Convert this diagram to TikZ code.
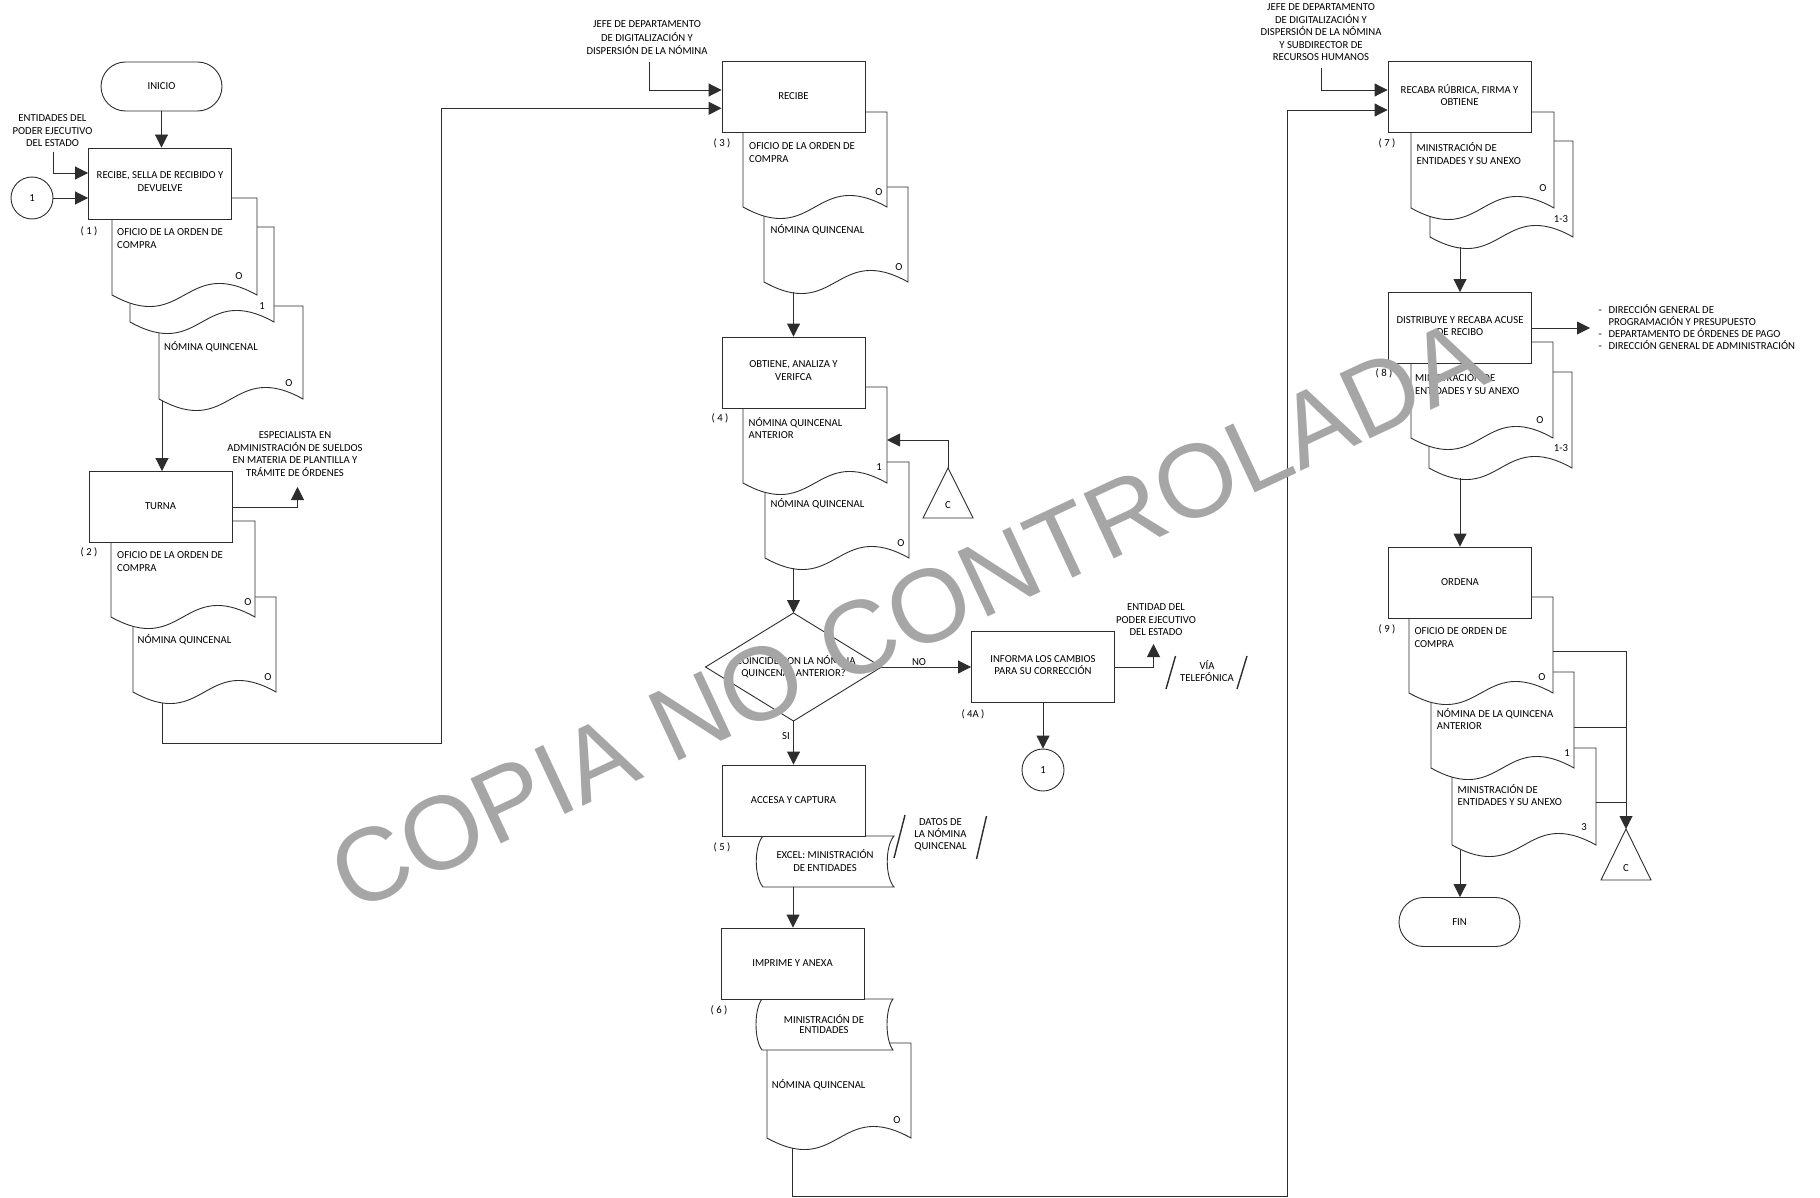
\documentclass[tikz,border=0pt]{standalone}
\usepackage{fontspec}
\setmainfont{Carlito}
\newfontfamily\wmfont{Liberation Sans}
\usetikzlibrary{arrows.meta}
\definecolor{wm}{RGB}{166,166,166}
\definecolor{ln}{RGB}{45,45,45}
\newcommand\ftxt{\fontsize{10.7}{12.5}\selectfont}
\newcommand\docshape[4]{%
  \draw[lnst, fill=white] (#1,#2) -- (#3,#2) -- (#3,#4)
    .. controls ({(#1+#3)/2},{#4-40}) and ({(#1+#3)/2},{#4+40}) .. (#1,#4) -- cycle;}
\newcommand\storedshape[5]{%
  \draw[lnst, fill=white] (#1,#2) -- (#3,#2)
    .. controls ({#3-#5},{#2+0.2*(#4-#2)}) and ({#3-#5},{#4-0.2*(#4-#2)}) .. (#3,#4)
    -- (#1,#4)
    .. controls ({#1-#5},{#4-0.2*(#4-#2)}) and ({#1-#5},{#2+0.2*(#4-#2)}) .. (#1,#2) -- cycle;}
\tikzset{
  lnst/.style={draw=ln, line width=0.9pt},
  proc/.style={lnst, fill=white, rectangle, minimum width=143pt, minimum height=71pt,
    inner sep=0pt, align=center, font=\ftxt, execute at begin node=\strut, execute at end node=\strut},
  term/.style={lnst, fill=white, rectangle, rounded corners=24.5pt, minimum width=121pt,
    minimum height=49pt, inner sep=0pt, font=\ftxt},
  conn/.style={lnst, fill=white, circle, minimum size=42pt, inner sep=0pt, font=\ftxt},
  arr/.style={lnst, -{Triangle[length=13pt,width=13pt]}},
  wire/.style={lnst},
  slash/.style={draw=ln, line width=1.4pt},
  lt/.style={anchor=north west, align=left, inner sep=0pt, font=\ftxt,
    execute at begin node=\strut, execute at end node=\strut},
  ct/.style={anchor=north, align=center, inner sep=0pt, font=\ftxt,
    execute at begin node=\strut, execute at end node=\strut},
  cc/.style={anchor=center, align=center, inner sep=0pt, font=\ftxt,
    execute at begin node=\strut, execute at end node=\strut},
  tag/.style={anchor=center, inner sep=0pt, font=\ftxt},
  wmark/.style={text=wm, inner sep=0pt, font=\wmfont\fontsize{104}{104}\selectfont},
}
\begin{document}
\begin{tikzpicture}[x=1pt,y=-1pt]
\useasboundingbox (0,0) rectangle (1820,1198);
\fill[white] (0,0) rectangle (1820,1198);

% ---------- step 1 ----------
\node[term] (inicio) at (161.5,86.5) {INICIO};
\docshape{159}{306}{303}{399}
\docshape{130}{227}{274}{322}
\docshape{112}{198}{257}{295}
\node[proc] (b1) at (160,183.5) {RECIBE, SELLA DE RECIBIDO Y\\DEVUELVE};
\node[conn] (con1a) at (32,198) {1};
\coordinate (ent1) at (53,152);
\coordinate (d1c-out) at (162,401);
\node[ct] (lbl-ent1) at (52.5,114.7) {ENTIDADES DEL\\PODER EJECUTIVO\\DEL ESTADO};
\node[tag] (n1) at (89,231) {( 1 )};
\node[lt] (t1a) at (117,228.7) {OFICIO DE LA ORDEN DE\\COMPRA};
\node[tag] (o1a) at (239,276) {O};
\node[tag] (o1b) at (262,306) {1};
\node[lt] (t1c) at (164,341.7) {NÓMINA QUINCENAL};
\node[tag] (o1c) at (289,383) {O};

% ---------- step 2 ----------
\docshape{133}{597}{276}{692}
\docshape{111}{521}{255}{617}
\node[proc] (b2) at (160.5,507) {TURNA};
\coordinate (esp) at (297.5,487);
\coordinate (d2b-out) at (162,703);
\coordinate (j1) at (441,743);
\node[ct] (lbl-esp) at (295,431.7) {ESPECIALISTA EN\\ADMINISTRACIÓN DE SUELDOS\\EN MATERIA DE PLANTILLA Y\\TRÁMITE DE ÓRDENES};
\node[tag] (n2) at (89,552) {( 2 )};
\node[lt] (t2a) at (117,551.7) {OFICIO DE LA ORDEN DE\\COMPRA};
\node[tag] (o2a) at (248,602) {O};
\node[lt] (t2b) at (137.5,634.7) {NÓMINA QUINCENAL};
\node[tag] (o2b) at (268,677) {O};

% ---------- step 3 ----------
\docshape{764}{187}{908}{282}
\docshape{743}{112}{887}{207}
\node[proc] (b3) at (793.5,97) {RECIBE};
\coordinate (jefe3) at (649,62);
\coordinate (d3b-out) at (793.5,292);
\node[ct, font=\fontsize{10.7}{13.3}\selectfont] (lbl-jefe3) at (647,20.7) {JEFE DE DEPARTAMENTO\\DE DIGITALIZACIÓN Y\\DISPERSIÓN DE LA NÓMINA};
\node[tag] (n3) at (722,143) {( 3 )};
\node[lt] (t3a) at (749,142.5) {OFICIO DE LA ORDEN DE\\COMPRA};
\node[tag] (o3a) at (879,192) {O};
\node[lt] (t3b) at (770.5,224) {NÓMINA QUINCENAL};
\node[tag] (o3b) at (899,267) {O};

% ---------- step 4 ----------
\docshape{765}{462}{909}{558}
\docshape{743}{387}{887}{483}
\node[proc] (b4) at (793.5,372.5) {OBTIENE, ANALIZA Y\\VERIFCA};
\coordinate (d4a-in) at (887,440);
\coordinate (c4) at (948,468);
\coordinate (d4b-out) at (793.5,568);
\draw[lnst] (c4) -- (973,518) -- (923,518) -- cycle;
\node[tag] (tc4) at (948,505) {C};
\node[tag] (n4) at (720,418) {( 4 )};
\node[lt] (t4a) at (748.5,417.2) {NÓMINA QUINCENAL\\ANTERIOR};
\node[tag] (o4a) at (879,467) {1};
\node[lt] (t4b) at (770.5,498.7) {NÓMINA QUINCENAL};
\node[tag] (o4b) at (901,543) {O};

% ---------- decision ----------
\coordinate (decN) at (793.5,613);
\coordinate (decS) at (793.5,721);
\coordinate (decE) at (881.5,667);
\coordinate (decW) at (705.5,667);
\draw[lnst, fill=white] (decN) -- (decE) -- (decS) -- (decW) -- cycle;
\node[cc] (dec) at (793.5,668) {¿COINCIDE CON LA NÓMINA\\QUINCENAL ANTERIOR?};
\node[tag] (lno) at (919,662) {NO};
\node[tag] (lsi) at (786,736) {SI};

% ---------- step 4A ----------
\node[proc] (b4a) at (1043,667) {INFORMA LOS CAMBIOS\\PARA SU CORRECCIÓN};
\node[conn] (con1b) at (1043,770) {1};
\coordinate (ent4a) at (1153.5,644);
\node[tag] (n4a) at (973,714) {( 4A )};
\node[ct] (lbl-ent4a) at (1156,603.7) {ENTIDAD DEL\\PODER EJECUTIVO\\DEL ESTADO};
\node[ct, font=\fontsize{10.7}{12}\selectfont] (lbl-via) at (1207,660.7) {VÍA\\TELEFÓNICA};
\coordinate (s1a) at (1166,689); \coordinate (s1b) at (1175.5,656);
\coordinate (s2a) at (1237,689); \coordinate (s2b) at (1247,656);
\draw[slash] (s1a) -- (s1b);
\draw[slash] (s2a) -- (s2b);

% ---------- step 5 ----------
\storedshape{763}{836}{894}{887}{9}
\node[proc] (b5) at (793.5,800.5) {ACCESA Y CAPTURA};
\coordinate (ex-out) at (793,887);
\node[cc] (tex) at (825,862.5) {EXCEL: MINISTRACIÓN\\DE ENTIDADES};
\node[tag] (n5) at (722,847) {( 5 )};
\node[ct, font=\fontsize{10.7}{12}\selectfont] (lbl-datos) at (940.5,818.7) {DATOS DE\\LA NÓMINA\\QUINCENAL};
\coordinate (s3a) at (894,858); \coordinate (s3b) at (905,815);
\coordinate (s4a) at (976.5,859); \coordinate (s4b) at (986.5,816);
\draw[slash] (s3a) -- (s3b);
\draw[slash] (s4a) -- (s4b);

% ---------- step 6 ----------
\docshape{767}{1043}{911}{1138}
\storedshape{762}{999}{893}{1050}{8}
\node[proc] (b6) at (792.5,963.5) {IMPRIME Y ANEXA};
\coordinate (d6-out) at (792,1148);
\coordinate (j2) at (1287,1196);
\node[cc, font=\fontsize{10.7}{10}\selectfont] (tmin6) at (824,1025.5) {MINISTRACIÓN DE\\ENTIDADES};
\node[tag] (n6) at (719,1010) {( 6 )};
\node[lt] (t6) at (771.7,1079) {NÓMINA QUINCENAL};
\node[tag] (o6) at (897,1120) {O};

% ---------- step 7 ----------
\docshape{1430}{141}{1573}{237}
\docshape{1411}{112}{1554}{208}
\node[proc] (b7) at (1459.5,97) {RECABA RÚBRICA, FIRMA Y\\OBTIENE};
\coordinate (jefe7) at (1321,68);
\coordinate (d7b-out) at (1460,247);
\node[ct] (lbl-jefe7) at (1321,3.7) {JEFE DE DEPARTAMENTO\\DE DIGITALIZACIÓN Y\\DISPERSIÓN DE LA NÓMINA\\Y SUBDIRECTOR DE\\RECURSOS HUMANOS};
\node[tag] (n7) at (1387,143) {( 7 )};
\node[lt] (t7a) at (1416.5,142.7) {MINISTRACIÓN DE\\ENTIDADES Y SU ANEXO};
\node[tag] (o7a) at (1543,188) {O};
\node[tag] (o7b) at (1561,219) {1-3};

% ---------- step 8 ----------
\docshape{1429}{372}{1572}{468}
\docshape{1411}{342}{1553}{438}
\node[proc] (b8) at (1460,328) {DISTRIBUYE Y RECABA ACUSE\\DE RECIBO};
\coordinate (dist) at (1590,328);
\coordinate (d8b-out) at (1460,478);
\node[lt, font=\fontsize{10.7}{11.9}\selectfont] (lbl-dist) at (1598.5,304.7) {\makebox[9.8pt][l]{-}DIRECCIÓN GENERAL DE\\\makebox[9.8pt][l]{}PROGRAMACIÓN Y PRESUPUESTO\\\makebox[9.8pt][l]{-}DEPARTAMENTO DE ÓRDENES DE PAGO\\\makebox[9.8pt][l]{-}DIRECCIÓN GENERAL DE ADMINISTRACIÓN};
\node[tag] (n8) at (1384,373) {( 8 )};
\node[lt] (t8a) at (1415,372.7) {MINISTRACIÓN DE\\ENTIDADES Y SU ANEXO};
\node[tag] (o8a) at (1540,420) {O};
\node[tag] (o8b) at (1561,448) {1-3};

% ---------- step 9 ----------
\docshape{1452}{748}{1596}{845}
\docshape{1431}{672}{1574}{768}
\docshape{1409}{597}{1553}{693}
\node[proc] (b9) at (1460,582.5) {ORDENA};
\coordinate (r9a) at (1553,651); \coordinate (k9a) at (1626,651);
\coordinate (r9b) at (1574,727); \coordinate (k9b) at (1626,727);
\coordinate (r9c) at (1596,802); \coordinate (k9c) at (1626,802);
\coordinate (c9) at (1626,829);
\coordinate (d9c-out) at (1460,850);
\draw[lnst] (c9) -- (1651,880) -- (1601,880) -- cycle;
\node[tag] (tc9) at (1626,868) {C};
\node[tag] (n9) at (1387,629) {( 9 )};
\node[lt] (t9a) at (1414.3,627.4) {OFICIO DE ORDEN DE\\COMPRA};
\node[tag] (o9a) at (1542,677) {O};
\node[lt] (t9b) at (1436.7,708) {NÓMINA DE LA QUINCENA\\ANTERIOR};
\node[tag] (o9b) at (1567,753) {1};
\node[lt] (t9c) at (1457.5,784) {MINISTRACIÓN DE\\ENTIDADES Y SU ANEXO};
\node[tag] (o9c) at (1584,827) {3};
\node[term] (fin) at (1459.5,922) {FIN};

% ---------- connectors ----------
\draw[arr] (inicio.south) -- (inicio.south |- b1.north);
\draw[arr] (ent1) |- ([yshift=10.5pt]b1.west);
\draw[arr] (con1a.east) -- (con1a.east -| b1.west);
\draw[arr] (d1c-out) -- (d1c-out |- b2.north);
\draw[arr] (b2.east) -| (esp);
\draw[arr] (d2b-out) |- (j1) |- ([yshift=-11.3pt]b3.west);
\draw[arr] (jefe3) |- ([yshift=7pt]b3.west);
\draw[arr] (d3b-out) -- (d3b-out |- b4.north);
\draw[arr] (c4) |- (d4a-in);
\draw[arr] (d4b-out) -- (decN);
\draw[arr] (decE) -- (b4a.west);
\draw[arr] (decS) -- (b5.north);
\draw[arr] (b4a.south) -- (con1b.north);
\draw[arr] (b4a.east) -| (ent4a);
\draw[arr] (ex-out) -- (ex-out |- b6.north);
\draw[arr] (d6-out) |- (j2) |- ([yshift=-13pt]b7.west);
\draw[arr] (jefe7) |- ([yshift=7pt]b7.west);
\draw[arr] (d7b-out) -- (d7b-out |- b8.north);
\draw[arr] (b8.east) -- (dist);
\draw[arr] (d8b-out) -- (d8b-out |- b9.north);
\draw[wire] (r9a) -- (k9a);
\draw[wire] (r9b) -- (k9b);
\draw[wire] (r9c) -- (k9c);
\draw[arr] (k9a) -- (c9);
\draw[arr] (d9c-out) -- (d9c-out |- fin.north);

% ---------- watermark ----------
\node[wmark, rotate=25, anchor=base west] (wm) at (352,914) {COPIA NO CONTROLADA};
\end{tikzpicture}
\end{document}
